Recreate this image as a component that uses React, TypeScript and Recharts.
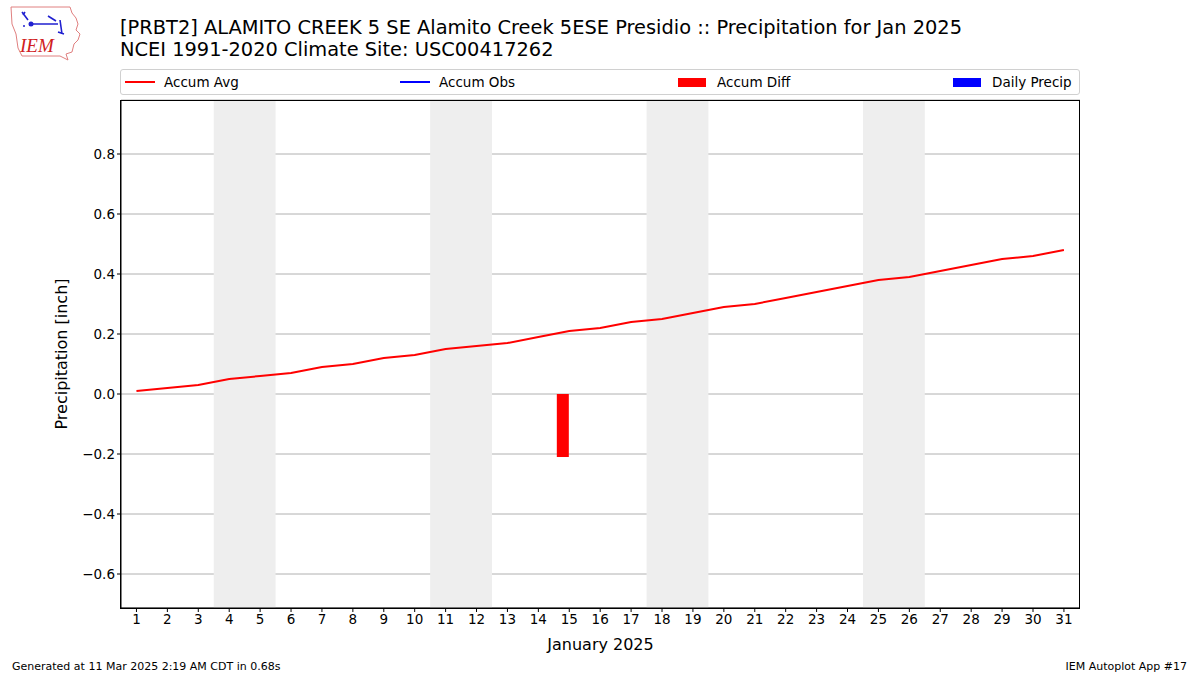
import {
  Bar,
  CartesianGrid,
  ComposedChart,
  Line,
  ReferenceArea,
  XAxis,
  YAxis,
} from "recharts";

// January 2025 daily climatology, accumulated (inch)
const days = Array.from({ length: 31 }, (_, i) => i + 1);
const accumAvg = [
  0.01, 0.02, 0.03, 0.05, 0.06, 0.07, 0.09, 0.1, 0.12, 0.13, 0.15, 0.16, 0.17,
  0.19, 0.21, 0.22, 0.24, 0.25, 0.27, 0.29, 0.3, 0.32, 0.34, 0.36, 0.38, 0.39,
  0.41, 0.43, 0.45, 0.46, 0.48,
];
// accumulated departure, only one day reported
const accumDiff: (number | null)[] = days.map((d) => (d === 15 ? -0.21 : null));
const weekends: [number, number][] = [
  [3.5, 5.5],
  [10.5, 12.5],
  [17.5, 19.5],
  [24.5, 26.5],
];
const yTicks = [-0.6, -0.4, -0.2, 0, 0.2, 0.4, 0.6, 0.8];

const data = days.map((d, i) => ({ day: d, avg: accumAvg[i], diff: accumDiff[i] }));

const FONT = "'DejaVu Sans', sans-serif";

const legendItems = [
  { label: "Accum Avg", color: "#ff0000", kind: "line", x: 4 },
  { label: "Accum Obs", color: "#0000ff", kind: "line", x: 279 },
  { label: "Accum Diff", color: "#ff0000", kind: "patch", x: 557 },
  { label: "Daily Precip", color: "#0000ff", kind: "patch", x: 832 },
];

function TopLegend() {
  return (
    <div
      style={{
        position: "absolute",
        left: 120,
        top: 69,
        width: 958,
        height: 24,
        border: "1px solid #d0d0d0",
        borderRadius: 3,
        background: "#fff",
        fontFamily: FONT,
        fontSize: 13.5,
      }}
    >
      {legendItems.map((it) => (
        <div key={it.label} style={{ position: "absolute", left: it.x, top: 3, display: "flex", alignItems: "center", height: 18 }}>
          {it.kind === "line" ? (
            <div style={{ width: 30, height: 2, background: it.color }} />
          ) : (
            <div style={{ width: 28, height: 9, background: it.color }} />
          )}
          <span style={{ marginLeft: it.kind === "line" ? 9 : 11, color: "#000" }}>{it.label}</span>
        </div>
      ))}
    </div>
  );
}

function DiffBar(props: any) {
  const { x, y, width, height } = props;
  if (height == null || width == null) return null;
  const h = Math.abs(height);
  const top = height < 0 ? y + height : y;
  return <rect x={x - width / 2} y={top} width={width} height={h} fill="#ff0000" />;
}

function Logo() {
  return (
    <svg width={80} height={60} style={{ position: "absolute", left: 8, top: 4 }}>
      <path
        d="M3 3 L62 3 L64 9 L68 14 L70 20 L68 26 L72 30 L70 36 L66 40 L64 48 L58 50 L60 56 L52 52 L14 52 L10 44 L8 30 L4 20 Z"
        fill="none"
        stroke="#e08080"
        strokeWidth={1}
      />
      <path
        d="M14 8 L20 16 M15 11 L17 8 M24 20 L50 20 M40 12 L48 17 M52 16 L54 30 M50 28 L56 30"
        stroke="#2020d0"
        strokeWidth={1.6}
        fill="none"
      />
      <circle cx={23} cy={20} r={2.5} fill="#2020d0" />
      <circle cx={16} cy={22} r={1} fill="#2020d0" />
      <text x={12} y={48} fill="#d02020" fontFamily="'Liberation Serif', serif" fontStyle="italic" fontSize={19}>
        IEM
      </text>
    </svg>
  );
}

export default function App() {
  return (
    <div style={{ position: "absolute", left: 0, top: 0, width: 1200, height: 675, background: "#fff" }}>
      <Logo />
      <div
        style={{
          position: "absolute",
          left: 120,
          top: 17,
          fontFamily: FONT,
          fontSize: 19.4,
          lineHeight: "22px",
          color: "#000",
          whiteSpace: "nowrap",
        }}
      >
        <div>[PRBT2] ALAMITO CREEK 5 SE Alamito Creek 5ESE Presidio :: Precipitation for Jan 2025</div>
        <div>NCEI 1991-2020 Climate Site: USC00417262</div>
      </div>
      <ComposedChart
        width={1200}
        height={675}
        data={data}
        margin={{ top: 100, right: 120, bottom: 37, left: 61 }}
        style={{ position: "absolute", left: 0, top: 0 }}
      >
        {weekends.map(([a, b]) => (
          <ReferenceArea key={a} x1={a} x2={b} fill="#eeeeee" fillOpacity={1} stroke="none" ifOverflow="hidden" />
        ))}
        <CartesianGrid vertical={false} stroke="#b0b0b0" strokeWidth={1} />
        <XAxis
          dataKey="day"
          type="number"
          domain={[0.5, 31.52]}
          ticks={days}
          interval={0}
          height={30}
          axisLine={{ stroke: "#000" }}
          tickLine={{ stroke: "#000" }}
          tickSize={4}
          tick={{ fill: "#000", fontSize: 13.5, fontFamily: FONT }}
          label={{ value: "January 2025", position: "insideBottom", offset: -12, fill: "#000", fontSize: 16, fontFamily: FONT }}
        />
        <YAxis
          type="number"
          domain={[-0.7133, 0.98]}
          ticks={yTicks}
          allowDataOverflow
          width={60}
          axisLine={{ stroke: "#000" }}
          tickLine={{ stroke: "#000" }}
          tickSize={4}
          tickFormatter={(v: number) => (v === 0 ? "0.0" : v < 0 ? `\u2212${Math.abs(v).toFixed(1)}` : v.toFixed(1))}
          tick={{ fill: "#000", fontSize: 13.5, fontFamily: FONT }}
          label={{
            value: "Precipitation [inch]",
            angle: -90,
            position: "insideLeft",
            offset: 2,
            dx: -2,
            style: { textAnchor: "middle" },
            fill: "#000",
            fontSize: 16,
            fontFamily: FONT,
          }}
        />
        <Bar dataKey="diff" barSize={12} shape={<DiffBar />} isAnimationActive={false} />
        <Line
          dataKey="avg"
          type="linear"
          stroke="#ff0000"
          strokeWidth={2}
          dot={false}
          isAnimationActive={false}
        />
      </ComposedChart>
      <TopLegend />
      <div
        style={{
          position: "absolute",
          left: 120,
          top: 100,
          width: 958,
          height: 507,
          border: "1px solid #000",
          pointerEvents: "none",
        }}
      />
      <div style={{ position: "absolute", left: 12, top: 660, fontFamily: FONT, fontSize: 11, color: "#000" }}>
        Generated at 11 Mar 2025 2:19 AM CDT in 0.68s
      </div>
      <div style={{ position: "absolute", right: 13, top: 660, fontFamily: FONT, fontSize: 11, color: "#000" }}>
        IEM Autoplot App #17
      </div>
    </div>
  );
}
